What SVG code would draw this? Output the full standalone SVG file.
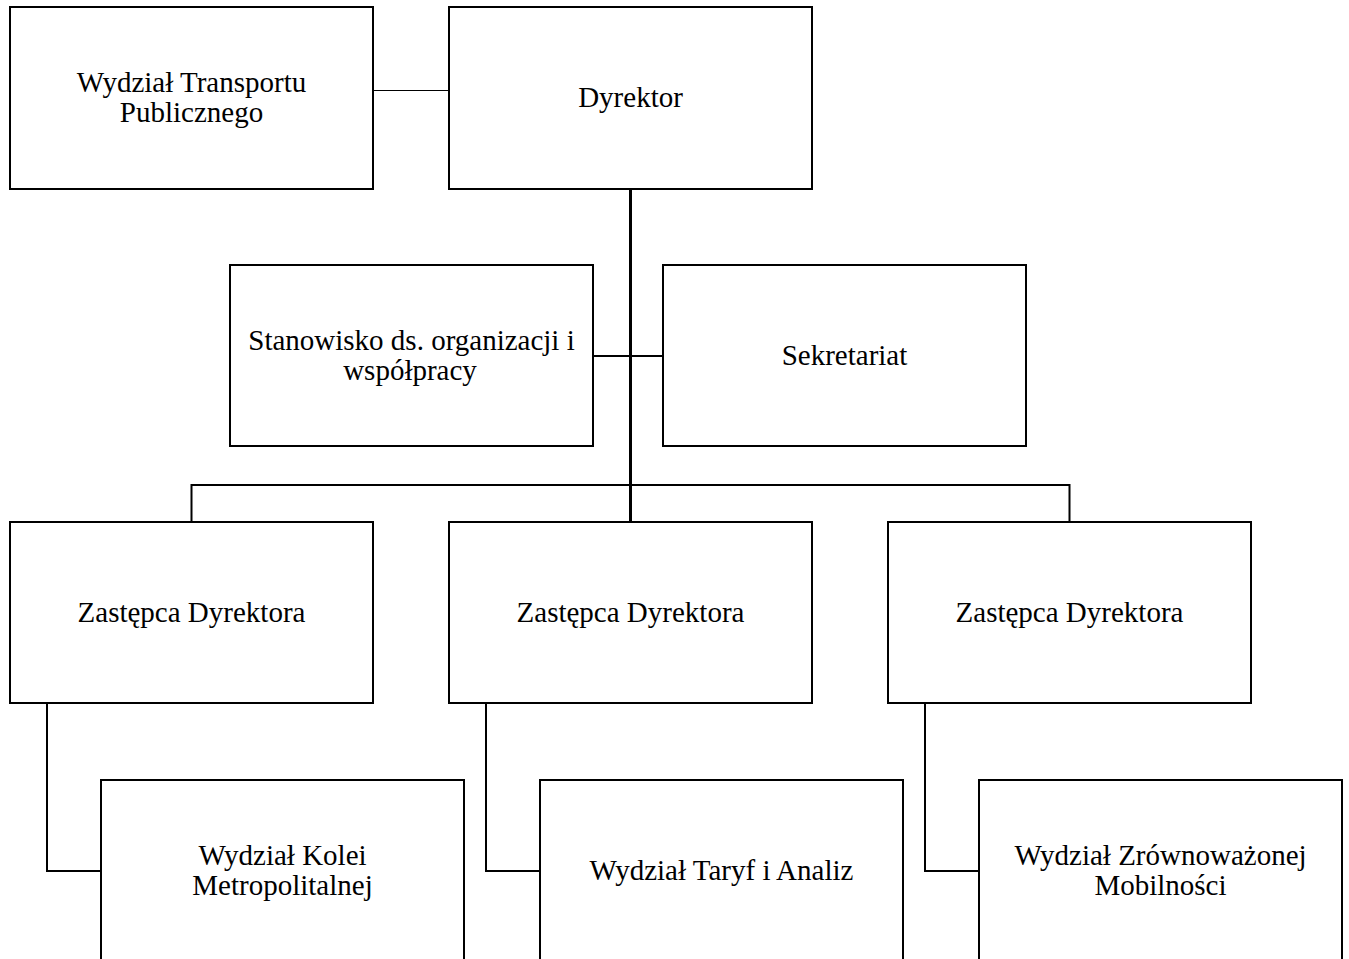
<svg xmlns="http://www.w3.org/2000/svg" width="1349" height="959" viewBox="0 0 1349 959">
<style>
.box{fill:#fff;stroke:#000;stroke-width:2}
.t{font-family:"Liberation Serif","Times New Roman",serif;font-size:29px;fill:#000;text-anchor:middle}
.c{fill:none;stroke:#000;stroke-width:2}
</style>
<rect width="1349" height="959" fill="#fff"/>
<g id="connectors">
<line x1="373" y1="90.5" x2="449" y2="90.5" stroke="#000" stroke-width="1"/>
<line x1="630.5" y1="189" x2="630.5" y2="522" class="c" style="stroke-width:3"/>
<line x1="593" y1="356" x2="663" y2="356" class="c"/>
<polyline points="191.5,522 191.5,485 1069.5,485 1069.5,522" class="c"/>
<polyline points="47,703 47,871 101,871" class="c"/>
<polyline points="486,703 486,871 540,871" class="c"/>
<polyline points="925,703 925,871 979,871" class="c"/>
</g>
<g id="n-transport"><rect class="box" x="10" y="7" width="363" height="182"/><text class="t" x="191.5" y="92">Wydział Transportu</text><text class="t" x="191.5" y="122">Publicznego</text></g>
<g id="n-dyrektor"><rect class="box" x="449" y="7" width="363" height="182"/><text class="t" x="630.5" y="107">Dyrektor</text></g>
<g id="n-stanowisko"><rect class="box" x="230" y="265" width="363" height="181"/><text class="t" x="411.5" y="350">Stanowisko ds. organizacji i </text><text class="t" x="410" y="380">współpracy</text></g>
<g id="n-sekretariat"><rect class="box" x="663" y="265" width="363" height="181"/><text class="t" x="844.5" y="365">Sekretariat</text></g>
<g id="n-zastepca1"><rect class="box" x="10" y="522" width="363" height="181"/><text class="t" x="191.5" y="622">Zastępca Dyrektora</text></g>
<g id="n-zastepca2"><rect class="box" x="449" y="522" width="363" height="181"/><text class="t" x="630.5" y="622">Zastępca Dyrektora</text></g>
<g id="n-zastepca3"><rect class="box" x="888" y="522" width="363" height="181"/><text class="t" x="1069.5" y="622">Zastępca Dyrektora</text></g>
<g id="n-kolei"><rect class="box" x="101" y="780" width="363" height="182"/><text class="t" x="282.5" y="865">Wydział Kolei</text><text class="t" x="282.5" y="895">Metropolitalnej</text></g>
<g id="n-taryf"><rect class="box" x="540" y="780" width="363" height="182"/><text class="t" x="721.5" y="880">Wydział Taryf i Analiz</text></g>
<g id="n-mobilnosc"><rect class="box" x="979" y="780" width="363" height="182"/><text class="t" x="1160.5" y="865">Wydział Zrównoważonej</text><text class="t" x="1160.5" y="895">Mobilności</text></g>
</svg>
